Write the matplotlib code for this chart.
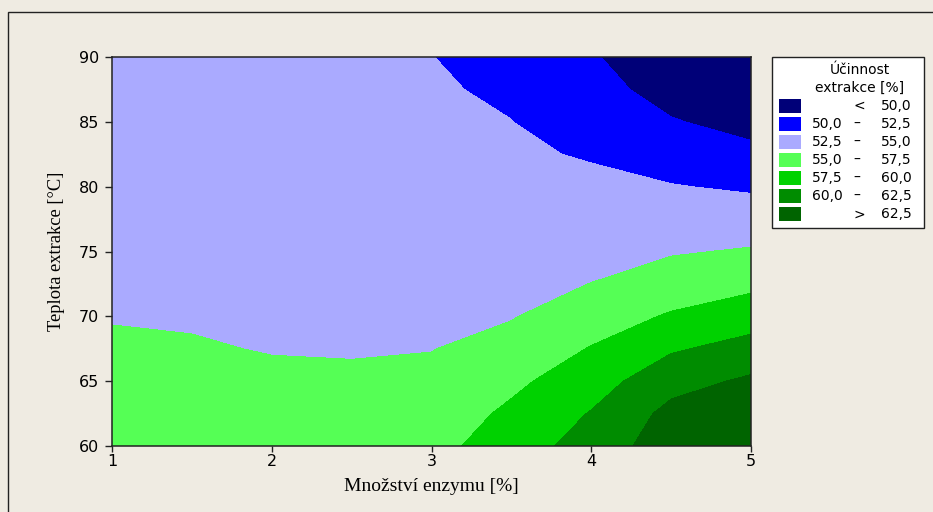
import matplotlib
matplotlib.use('Agg')
import matplotlib.pyplot as plt
from matplotlib.colors import ListedColormap
from matplotlib.patches import Rectangle
import numpy as np

# grid of the response surface
enzyme = [1, 1.5, 2, 2.5, 3, 3.5, 4, 4.5, 5]
temperature = [60, 62.5, 65, 67.5, 70, 72.5, 75, 77.5, 80, 82.5, 85, 87.5, 90]
efficiency = [
    [56.56, 56.51, 56.36, 56.41, 56.74, 58.74, 61.08, 63.80, 66.80],
    [56.13, 56.06, 55.86, 55.86, 56.12, 57.95, 60.14, 63.20, 64.90],
    [55.71, 55.61, 55.36, 55.31, 55.52, 56.98, 58.90, 61.63, 62.90],
    [55.28, 55.16, 54.91, 54.85, 54.94, 55.84, 57.63, 59.72, 60.91],
    [54.90, 54.81, 54.60, 54.52, 54.56, 54.87, 56.33, 57.74, 58.89],
    [54.63, 54.54, 54.32, 54.22, 54.21, 54.37, 55.03, 56.21, 56.94],
    [54.38, 54.28, 54.05, 53.94, 53.88, 53.92, 54.34, 54.80, 55.21],
    [54.15, 54.04, 53.81, 53.68, 53.57, 53.51, 53.66, 53.71, 53.69],
    [53.94, 53.83, 53.58, 53.45, 53.30, 53.14, 52.99, 52.61, 52.19],
    [53.75, 53.63, 53.38, 53.24, 53.05, 52.81, 52.32, 51.41, 50.65],
    [53.58, 53.45, 53.20, 53.05, 52.83, 52.52, 51.66, 50.19, 49.13],
    [53.43, 53.30, 53.05, 52.89, 52.66, 52.27, 50.99, 48.95, 47.70],
    [53.30, 53.16, 52.91, 52.75, 52.52, 52.02, 50.32, 47.70, 46.40],
]
levels = [50.0, 52.5, 55.0, 57.5, 60.0, 62.5]
colors = ['#000078', '#0000ff', '#aaaaff', '#55ff55', '#00d200', '#008c00', '#006400']

W, H = 933, 512
bg = '#efebe2'

def fx(px):
    return px / W

def fy(py):
    return 1 - py / H

fig = plt.figure(figsize=(W / 100, H / 100), dpi=100, facecolor=bg)
ax = fig.add_axes([fx(112), fy(446), fx(751) - fx(112), fy(57) - fy(446)])
ax.set_facecolor(bg)

cmap = ListedColormap(colors[1:-1])
cmap.set_under(colors[0])
cmap.set_over(colors[-1])
X, Y = np.meshgrid(enzyme, temperature)
ax.contourf(X, Y, np.array(efficiency), levels=levels, cmap=cmap, extend='both')

ax.set_xlim(1, 5)
ax.set_ylim(60, 90)
ax.set_xticks([1, 2, 3, 4, 5])
ax.set_yticks(np.arange(60, 91, 5))
ax.tick_params(axis='y', direction='out', length=5, width=1, pad=4, labelsize=11.5, color='#222222')
ax.tick_params(axis='x', direction='out', length=4, width=1, pad=2, labelsize=11.5, color='#222222')
for s in ax.spines.values():
    s.set_linewidth(1.1)
    s.set_color('#222222')

ax.set_xlabel('Množství enzymu [%]', family='Liberation Serif', fontsize=14, labelpad=6)
ax.set_ylabel('Teplota extrakce [°C]', family='Liberation Serif', fontsize=13.3, labelpad=10)

# outer frame (only top and left edge visible)
fig.add_artist(Rectangle((fx(8), -0.1), 1.2, fy(12) + 0.1, transform=fig.transFigure,
                         fill=False, lw=1, edgecolor='#222222'))

# legend box
fs = 10
fig.add_artist(Rectangle((fx(772), fy(228)), fx(924) - fx(772), fy(57) - fy(228),
                         transform=fig.transFigure, facecolor='white', edgecolor='#222222', lw=1))
fig.text(fx(860), fy(70), 'Účinnost', ha='center', va='center', fontsize=fs)
fig.text(fx(860), fy(88), 'extrakce [%]', ha='center', va='center', fontsize=fs)

def fmt(v):
    return f'{v:.1f}'.replace('.', ',')

for i, c in enumerate(colors):
    yc = 106 + i * 18.05
    fig.add_artist(Rectangle((fx(779), fy(yc + 7)), fx(801) - fx(779), fy(yc - 7) - fy(yc + 7),
                             transform=fig.transFigure, facecolor=c, edgecolor='none'))
    if i == 0:
        fig.text(fx(859), fy(yc), '<', ha='center', va='center', fontsize=fs)
        fig.text(fx(912), fy(yc), fmt(levels[0]), ha='right', va='center', fontsize=fs)
    elif i == len(colors) - 1:
        fig.text(fx(859), fy(yc), '>', ha='center', va='center', fontsize=fs)
        fig.text(fx(912), fy(yc), fmt(levels[-1]), ha='right', va='center', fontsize=fs)
    else:
        fig.text(fx(843), fy(yc), fmt(levels[i - 1]), ha='right', va='center', fontsize=fs)
        fig.text(fx(857), fy(yc), '–', ha='center', va='center', fontsize=fs)
        fig.text(fx(912), fy(yc), fmt(levels[i]), ha='right', va='center', fontsize=fs)

fig.savefig('out.png', dpi=100, facecolor=bg)
